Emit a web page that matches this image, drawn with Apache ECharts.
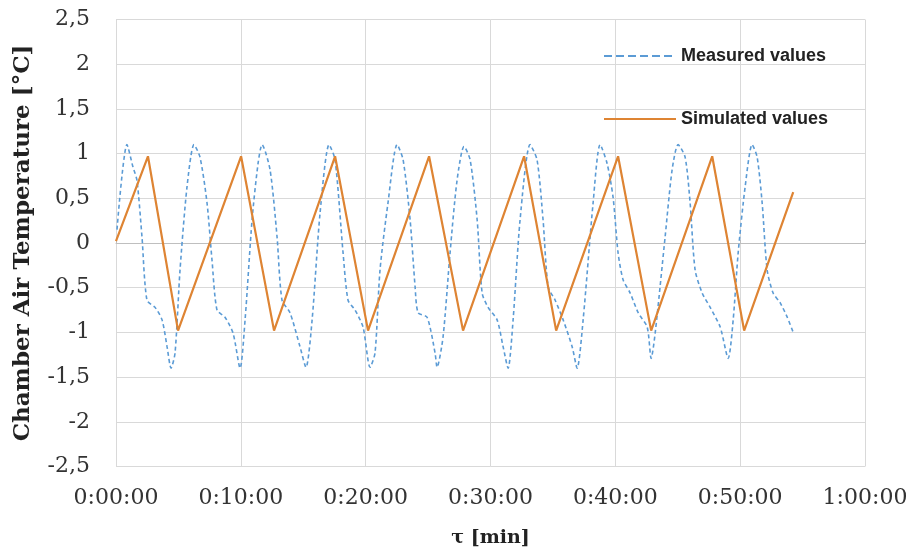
<!DOCTYPE html>
<html>
<head>
<meta charset="utf-8">
<script src="https://cdn.jsdelivr.net/npm/echarts@6/dist/echarts.min.js"></script>
<style>
  html, body { margin: 0; padding: 0; background: #fff; }
  #chart { width: 917px; height: 548px; }
</style>
</head>
<body>
<div id="chart"></div>
<script>
// time in minutes, temperature in °C
const measuredTime = [0.08, 0.88, 1.36, 1.68, 2.08, 2.48, 3.13, 3.69, 4.09, 4.41, 4.73, 5.13, 5.69,
  6.25, 6.73, 7.29, 7.69, 8.09, 8.73, 9.38, 9.94, 10.34, 10.90, 11.38,
  11.70, 12.34, 12.90, 13.30, 13.94, 14.74, 15.22, 15.71, 16.35,
  17.07, 17.55, 18.19, 18.59, 19.15, 19.79, 20.35, 20.75, 21.15, 21.79,
  22.52, 23.00, 23.56, 23.96, 24.20, 24.92, 25.56, 25.72, 26.20, 26.76, 27.32,
  27.88, 28.37, 28.93, 29.33, 29.81, 30.53, 31.01, 31.41, 31.81, 32.37,
  33.17, 33.73, 34.21, 34.62, 35.18, 35.82, 36.54, 36.94, 37.42, 38.22,
  38.78, 39.34, 39.82, 40.22, 40.62, 41.19, 41.83, 42.55, 42.87, 43.19, 43.99, 44.55,
  45.03, 45.59, 45.99, 46.39, 46.96, 47.60, 48.40, 49.04, 49.44, 49.84, 50.40,
  50.96, 51.36, 51.76, 52.16, 52.64, 53.21, 53.77, 54.25]
const measuredValues = [0.15, 1.10, 0.85, 0.70, 0.07, -0.64, -0.72, -0.86, -1.16, -1.40, -1.23, -0.30, 0.63,
  1.10, 0.96, 0.45, -0.19, -0.75, -0.83, -1.01, -1.40, -0.86, 0.26, 0.89,
  1.10, 0.82, 0.07, -0.64, -0.78, -1.16, -1.39, -0.86, 0.34,
  1.10, 0.93, -0.11, -0.64, -0.75, -0.94, -1.39, -1.23, -0.30, 0.45,
  1.10, 0.93, 0.26, -0.49, -0.78, -0.83, -1.23, -1.39, -1.05, -0.11, 0.70,
  1.08, 0.93, 0.26, -0.56, -0.72, -0.86, -1.16, -1.40, -0.86, 0.26,
  1.10, 0.93, 0.26, -0.49, -0.64, -0.86, -1.16, -1.40, -0.86, 0.45,
  1.10, 0.89, 0.51, -0.11, -0.41, -0.56, -0.78, -0.94, -1.29, -1.01, 0.07, 0.82,
  1.10, 0.96, 0.45, -0.30, -0.56, -0.72, -0.94, -1.29, -0.86, -0.11, 0.63,
  1.10, 0.96, 0.45, -0.30, -0.56, -0.67, -0.83, -1.00]

const simulatedTime = [0, 2.56, 4.97, 10.02, 12.66, 17.55, 20.19, 25.08, 27.80, 32.69, 35.26, 40.22, 42.87, 47.76, 50.32, 54.25]
const simulatedValues = [0.02, 0.97, -0.98, 0.97, -0.98, 0.97, -0.98, 0.97, -0.98, 0.97, -0.98, 0.97, -0.98, 0.97, -0.98, 0.57]

const xTicks = [0, 10, 20, 30, 40, 50, 60]

const serif = '"DejaVu Serif", "Liberation Serif", serif'

function fmtTime (m) {
  const h = Math.floor(m / 60)
  const mm = Math.round(m % 60)
  return h + ':' + String(mm).padStart(2, '0') + ':00'
}

const chart = echarts.init(document.getElementById('chart'), null, { renderer: 'canvas' })

chart.setOption({
  animation: false,
  grid: { left: 116, right: 52, top: 19.5, bottom: 81.5, containLabel: false, outerBoundsMode: 'none' },
  legend: {
    orient: 'vertical',
    left: 599,
    top: 41,
    itemWidth: 72,
    itemHeight: 20,
    itemGap: 43,
    textStyle: { fontFamily: '"Liberation Sans", Arial, sans-serif', fontWeight: 'bold', fontSize: 18, color: '#222' },
    data: [
      { name: 'Measured values', icon: 'path://M0,9 L8,9 L8,11 L0,11 Z M12,9 L20,9 L20,11 L12,11 Z M24,9 L32,9 L32,11 L24,11 Z M36,9 L44,9 L44,11 L36,11 Z M48,9 L56,9 L56,11 L48,11 Z M60,9 L68,9 L68,11 L60,11 Z M0,0 L0,0 L0,20 Z M72,0 L72,20 L72,0 Z' },
      { name: 'Simulated values', icon: 'path://M0,9 L72,9 L72,11 L0,11 Z M0,0 L0,0 L0,20 Z M72,0 L72,20 L72,0 Z' }
    ]
  },
  xAxis: {
    type: 'value',
    min: xTicks[0],
    max: xTicks[xTicks.length - 1],
    interval: 10,
    name: 'τ [min]',
    nameLocation: 'middle',
    nameGap: 62,
    nameTextStyle: { fontFamily: serif, fontWeight: 'bold', fontSize: 19, color: '#222' },
    axisLine: { lineStyle: { color: '#bfbfbf' } },
    axisTick: { show: true, length: 3, inside: true, lineStyle: { color: '#bfbfbf' } },
    axisLabel: { formatter: fmtTime, margin: 21, fontFamily: serif, fontSize: 22, color: '#333' },
    splitLine: { show: true, lineStyle: { color: '#d9d9d9' } }
  },
  yAxis: {
    type: 'value',
    min: -2.5,
    max: 2.5,
    interval: 0.5,
    name: 'Chamber Air Temperature [°C]',
    nameLocation: 'middle',
    nameGap: 81,
    nameTextStyle: { fontFamily: serif, fontWeight: 'bold', fontSize: 23, color: '#222' },
    axisLine: { show: true, lineStyle: { color: '#d9d9d9' } },
    axisTick: { show: false },
    axisLabel: {
      formatter: v => String(v).replace('.', ','),
      margin: 26,
      fontFamily: serif,
      fontSize: 22,
      color: '#333'
    },
    splitLine: { lineStyle: { color: '#d9d9d9' } }
  },
  series: [
    {
      name: 'Measured values',
      type: 'line',
      showSymbol: false,
      smooth: 0.25,
      color: '#5b9bd5',
      lineStyle: { type: [4, 3], width: 1.6, color: '#5b9bd5' },
      data: measuredTime.map((t, i) => [t, measuredValues[i]])
    },
    {
      name: 'Simulated values',
      type: 'line',
      showSymbol: false,
      color: '#de8433',
      lineStyle: { width: 2.2, color: '#de8433' },
      data: simulatedTime.map((t, i) => [t, simulatedValues[i]])
    }
  ]
})
</script>
</body>
</html>
